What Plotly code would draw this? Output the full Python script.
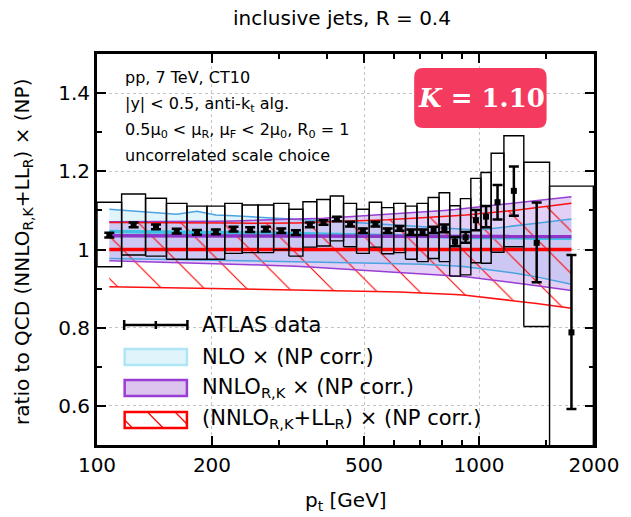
import numpy as np
import plotly.graph_objects as go

# ---------------- data ----------------
bin_edges = [100, 116, 134, 152, 172, 194, 216, 240, 264, 290, 318, 346, 376, 408, 442,
             478, 516, 556, 598, 642, 688, 736, 786, 838, 894, 952, 1012, 1076, 1162,
             1310, 1530, 1992]

atlas_ratio = [1.037, 1.063, 1.058, 1.047, 1.044, 1.045, 1.052, 1.051, 1.052, 1.048, 1.043,
               1.063, 1.069, 1.078, 1.065, 1.048, 1.065, 1.048, 1.054, 1.044, 1.044, 1.050,
               1.054, 1.020, 1.031, 1.075, 1.084, 1.121, 1.150, 1.017, 0.788]
atlas_stat_up = [0.006, 0.006, 0.006, 0.006, 0.006, 0.006, 0.006, 0.006, 0.006, 0.006, 0.006,
                 0.006, 0.006, 0.006, 0.006, 0.006, 0.006, 0.006, 0.006, 0.007, 0.007, 0.008,
                 0.010, 0.012, 0.014, 0.026, 0.027, 0.044, 0.062, 0.103, 0.198]
atlas_stat_dn = [0.006, 0.006, 0.006, 0.006, 0.006, 0.006, 0.006, 0.006, 0.006, 0.006, 0.006,
                 0.006, 0.006, 0.006, 0.006, 0.006, 0.006, 0.006, 0.006, 0.007, 0.007, 0.008,
                 0.010, 0.012, 0.014, 0.026, 0.027, 0.044, 0.064, 0.101, 0.196]
atlas_sys_hi = [1.121, 1.142, 1.131, 1.118, 1.111, 1.111, 1.118, 1.114, 1.114, 1.118, 1.103,
                1.122, 1.128, 1.137, 1.118, 1.103, 1.121, 1.107, 1.118, 1.111, 1.118, 1.133,
                1.145, 1.112, 1.130, 1.182, 1.197, 1.246, 1.291, 1.223, 1.162]
atlas_sys_lo = [0.956, 0.986, 0.983, 0.975, 0.975, 0.975, 0.990, 0.992, 0.992, 0.999, 0.983,
                1.006, 1.009, 1.022, 1.007, 0.990, 1.006, 0.989, 0.992, 0.975, 0.969, 0.977,
                0.969, 0.932, 0.935, 0.966, 0.965, 0.993, 1.007, 0.803, 0.400]

# theory (ratio to NNLO_RK + LL_R central), at bin centres
nlo_up = [1.103, 1.098, 1.094, 1.090, 1.098, 1.088, 1.086, 1.084, 1.082, 1.080, 1.078,
          1.076, 1.074, 1.072, 1.070, 1.068, 1.066, 1.064, 1.062, 1.060, 1.058, 1.056,
          1.055, 1.053, 1.051, 1.050, 1.052, 1.055, 1.060, 1.067, 1.078]
nlo_c = [1.046, 1.045, 1.045, 1.044, 1.044, 1.043, 1.043, 1.042, 1.042, 1.041, 1.040,
         1.040, 1.039, 1.038, 1.038, 1.037, 1.036, 1.036, 1.035, 1.035, 1.034, 1.033,
         1.033, 1.032, 1.032, 1.031, 1.031, 1.030, 1.030, 1.029, 1.029]
nlo_lo = [0.977, 0.976, 0.975, 0.974, 0.974, 0.973, 0.972, 0.971, 0.970, 0.970, 0.969,
          0.968, 0.968, 0.967, 0.966, 0.966, 0.965, 0.964, 0.964, 0.963, 0.962, 0.961,
          0.960, 0.958, 0.956, 0.953, 0.950, 0.946, 0.940, 0.930, 0.911]
nnlo_up = [1.071, 1.071, 1.071, 1.071, 1.072, 1.072, 1.073, 1.074, 1.075, 1.076, 1.077,
           1.079, 1.080, 1.082, 1.084, 1.086, 1.088, 1.090, 1.092, 1.094, 1.096, 1.098,
           1.100, 1.102, 1.105, 1.108, 1.111, 1.114, 1.119, 1.125, 1.135]
nnlo_c = [1.035, 1.035, 1.035, 1.035, 1.035, 1.035, 1.035, 1.035, 1.035, 1.034, 1.034,
          1.034, 1.034, 1.034, 1.034, 1.034, 1.034, 1.034, 1.034, 1.034, 1.033, 1.033,
          1.033, 1.033, 1.033, 1.033, 1.033, 1.033, 1.033, 1.033, 1.033]
nnlo_lo = [0.971, 0.969, 0.967, 0.966, 0.964, 0.963, 0.962, 0.961, 0.960, 0.959, 0.957,
           0.955, 0.953, 0.951, 0.949, 0.947, 0.945, 0.943, 0.941, 0.940, 0.938, 0.936,
           0.934, 0.932, 0.930, 0.927, 0.924, 0.921, 0.915, 0.907, 0.895]
res_up = [1.069, 1.069, 1.069, 1.069, 1.069, 1.068, 1.068, 1.067, 1.067, 1.067, 1.068,
          1.069, 1.070, 1.071, 1.072, 1.073, 1.075, 1.076, 1.078, 1.079, 1.081, 1.083,
          1.084, 1.086, 1.088, 1.090, 1.093, 1.096, 1.100, 1.107, 1.118]
res_c = [1.0] * 31
res_lo = [0.905, 0.904, 0.903, 0.902, 0.901, 0.900, 0.899, 0.898, 0.898, 0.897, 0.897,
          0.896, 0.896, 0.895, 0.895, 0.894, 0.893, 0.892, 0.891, 0.890, 0.889, 0.888,
          0.887, 0.885, 0.883, 0.880, 0.878, 0.875, 0.870, 0.862, 0.850]

x_tick_vals = [100, 200, 500, 1000, 2000]
x_tick_text = ["100", "200", "500", "1000", "2000"]
x_minor_vals = [300, 400, 600, 700, 800, 900, 1500]
y_tick_vals = [0.6, 0.8, 1.0, 1.2, 1.4]
y_tick_text = ["0.6", "0.8", "1", "1.2", "1.4"]
y_minor_vals = [0.7, 0.9, 1.1, 1.3]

# ---------------- geometry helpers ----------------
W, H = 631, 517
L, R, T, B = 97, 600, 54, 445


def fx(px):
    return (px - L) / (R - L)


def fy(py):
    return (B - py) / (B - T)


edges = np.array(bin_edges, dtype=float)
centers = np.sqrt(edges[:-1] * edges[1:])

FONT = "DejaVu Sans"
fig = go.Figure()


def band(up, lo, **kw):
    xs = list(centers) + list(centers[::-1])
    ys = list(up) + list(lo[::-1])
    fig.add_trace(go.Scatter(x=xs, y=ys, mode="lines", fill="toself",
                             line=dict(width=0, color="rgba(0,0,0,0)"),
                             hoverinfo="skip", showlegend=False, **kw))


# NLO band (light cyan)
band(nlo_up, nlo_lo, fillcolor="#dff4fb")
# NNLO band (lavender, translucent)
band(nnlo_up, nnlo_lo, fillcolor="rgba(165,100,225,0.30)")
# NNLO+LL band (red hatch)
band(res_up, res_lo, fillcolor="rgba(0,0,0,0)",
     fillpattern=dict(shape="\\", fgcolor="#ff0000", bgcolor="rgba(0,0,0,0)",
                      fgopacity=1, size=30, solidity=0.035, fillmode="overlay"))


def line(y, color, width):
    fig.add_trace(go.Scatter(x=centers, y=y, mode="lines",
                             line=dict(color=color, width=width),
                             hoverinfo="skip", showlegend=False))


line(nlo_up, "#4aa3e0", 1.5)
line(nlo_lo, "#4aa3e0", 1.5)
line(nnlo_up, "#9a3dd4", 1.5)
line(nnlo_lo, "#9a3dd4", 1.5)
line(res_up, "#ff1010", 1.5)
line(res_lo, "#ff1010", 1.5)
line(nlo_c, "#3fbfe3", 3.5)
line(nnlo_c, "#8e35c8", 3.5)
line(res_c, "#ff0000", 3.5)

# systematic boxes
bx, by = [], []
for i in range(len(centers)):
    x0, x1 = edges[i], edges[i + 1]
    lo, hi = atlas_sys_lo[i], atlas_sys_hi[i]
    bx += [x0, x1, x1, x0, x0, None]
    by += [lo, lo, hi, hi, lo, None]
fig.add_trace(go.Scatter(x=bx, y=by, mode="lines", line=dict(color="black", width=1.4),
                         hoverinfo="skip", showlegend=False))

# data
fig.add_trace(go.Scatter(
    x=centers, y=atlas_ratio, mode="markers",
    marker=dict(symbol="square", size=6, color="black"),
    error_y=dict(type="data", symmetric=False, array=atlas_stat_up,
                 arrayminus=atlas_stat_dn, color="black", thickness=2.5, width=5),
    hoverinfo="skip", showlegend=False))

# ---------------- axes ----------------
axis_common = dict(showline=True, linecolor="black", linewidth=3, mirror="ticks",
                   ticks="inside", ticklen=9, tickwidth=2, tickcolor="black",
                   showgrid=True, gridcolor="#c4c4c4", griddash="dot", gridwidth=1,
                   zeroline=False, tickfont=dict(family=FONT, size=20, color="black"))
fig.update_xaxes(type="log", range=[2, np.log10(2000)], tickvals=x_tick_vals,
                 ticktext=x_tick_text,
                 minor=dict(tickvals=x_minor_vals, ticks="inside",
                            ticklen=5, tickwidth=2, tickcolor="black", showgrid=False),
                 **axis_common)
fig.update_yaxes(range=[0.5, 1.5], tickvals=y_tick_vals, ticktext=y_tick_text,
                 minor=dict(tickvals=y_minor_vals, ticks="inside", ticklen=5,
                            tickwidth=2, tickcolor="black", showgrid=False),
                 **axis_common)

ann = []


def text(x, y, t, size, xanchor="center", family=FONT, color="black", angle=0):
    ann.append(dict(x=fx(x), y=fy(y), xref="paper", yref="paper", showarrow=False,
                    xanchor=xanchor, yanchor="middle", text=t, textangle=angle,
                    font=dict(family=family, size=size, color=color)))


# title
text(345, 18, "inclusive jets, R = 0.4", 20)
# axis titles
text(349, 501, "p<sub>t</sub> [GeV]", 20)
text(22, 252, "ratio to QCD (NNLO<sub>R,K</sub>+LL<sub>R</sub>) × (NP)", 20, angle=-90)
# info text
info = ["pp, 7 TeV, CT10",
        "|y| &lt; 0.5, anti-k<sub>t</sub> alg.",
        "0.5μ<sub>0</sub> &lt; μ<sub>R</sub>, μ<sub>F</sub> &lt; 2μ<sub>0</sub>, R<sub>0</sub> = 1",
        "uncorrelated scale choice"]
for t, yy in zip(info, [78, 104, 130, 155]):
    text(123, yy, t, 16, xanchor="left")

# legend texts
leg_items = [("ATLAS data", 325),
             ("NLO × (NP corr.)", 357),
             ("NNLO<sub>R,K</sub> × (NP corr.)", 388),
             ("(NNLO<sub>R,K</sub>+LL<sub>R</sub>) × (NP corr.)", 419)]
for t, yy in leg_items:
    text(201, yy, t, 21, xanchor="left")

shapes = []


def pl(x0, y0, x1, y1, color, width):
    shapes.append(dict(type="line", xref="paper", yref="paper", x0=fx(x0), y0=fy(y0),
                       x1=fx(x1), y1=fy(y1), line=dict(color=color, width=width)))


# K box (rounded rect)
kx0, kx1, ky0, ky1, r = 418, 552, 68, 128, 9
path = (f"M {fx(kx0 + r)},{fy(ky0)} L {fx(kx1 - r)},{fy(ky0)} "
        f"Q {fx(kx1)},{fy(ky0)} {fx(kx1)},{fy(ky0 + r)} L {fx(kx1)},{fy(ky1 - r)} "
        f"Q {fx(kx1)},{fy(ky1)} {fx(kx1 - r)},{fy(ky1)} L {fx(kx0 + r)},{fy(ky1)} "
        f"Q {fx(kx0)},{fy(ky1)} {fx(kx0)},{fy(ky1 - r)} L {fx(kx0)},{fy(ky0 + r)} "
        f"Q {fx(kx0)},{fy(ky0)} {fx(kx0 + r)},{fy(ky0)} Z")
shapes.append(dict(type="path", xref="paper", yref="paper", path=path,
                   fillcolor="#f43a5e", line=dict(width=0), layer="above"))
text(486, 98, "<b><i>K</i> = 1.10</b>", 26, family="DejaVu Serif", color="white")

# ATLAS legend symbol
pl(124, 325, 189, 325, "black", 2.5)
pl(124.5, 320, 124.5, 330, "black", 2.5)
pl(188.5, 320, 188.5, 330, "black", 2.5)
pl(156.5, 321, 156.5, 329, "black", 2.5)
# NLO legend box
shapes.append(dict(type="rect", xref="paper", yref="paper", x0=fx(125), x1=fx(188),
                   y0=fy(349), y1=fy(365), fillcolor="#dff4fb",
                   line=dict(color="#aee6f6", width=2.5)))
# NNLO legend box
shapes.append(dict(type="rect", xref="paper", yref="paper", x0=fx(125), x1=fx(188),
                   y0=fy(380), y1=fy(396), fillcolor="#dcc4ee",
                   line=dict(color="#9a3dd4", width=2.5)))
# NNLO+LL legend box with hatch
pl(125, 420, 133, 428, "#ff0000", 1.2)
pl(148, 412, 164, 428, "#ff0000", 1.2)
pl(176, 412, 188, 424, "#ff0000", 1.2)
shapes.append(dict(type="rect", xref="paper", yref="paper", x0=fx(125), x1=fx(188),
                   y0=fy(412), y1=fy(428), fillcolor="rgba(0,0,0,0)",
                   line=dict(color="#ff0000", width=2.5)))

fig.update_layout(width=W, height=H, margin=dict(l=L, r=W - R, t=T, b=H - B),
                  paper_bgcolor="white", plot_bgcolor="white", showlegend=False,
                  annotations=ann, shapes=shapes)

fig.write_html("out.html")
